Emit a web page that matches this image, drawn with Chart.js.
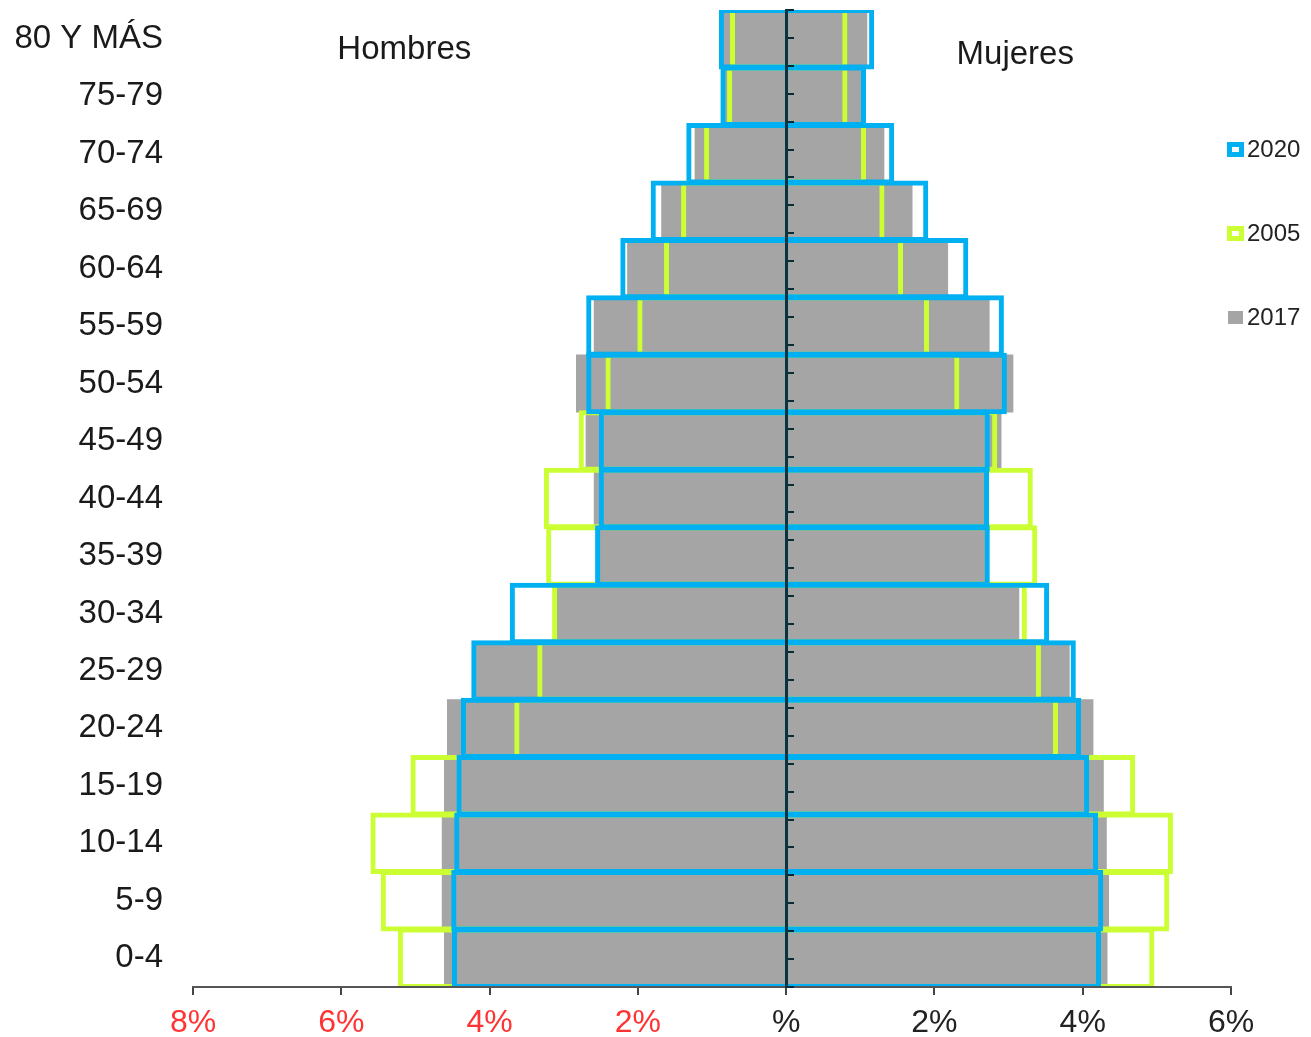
<!DOCTYPE html>
<html>
<head>
<meta charset="utf-8">
<title>Pirámide de población</title>
<script src="https://cdn.jsdelivr.net/npm/chart.js@4/dist/chart.umd.min.js"></script>
<style>
  html, body { margin: 0; padding: 0; background: #fff; }
</style>
</head>
<body>
<canvas id="pyramid" width="1311" height="1037"></canvas>
<script>
// age groups, top of the pyramid first
const ageGroups = ['80 Y MÁS', '75-79', '70-74', '65-69', '60-64', '55-59', '50-54', '45-49',
  '40-44', '35-39', '30-34', '25-29', '20-24', '15-19', '10-14', '5-9', '0-4']

// % of population
const men2020   = [0.88, 0.86, 1.32, 1.80, 2.21, 2.67, 2.67, 2.50, 2.50, 2.55, 3.70, 4.22, 4.36, 4.42, 4.45, 4.49, 4.48]
const women2020 = [1.16, 1.05, 1.43, 1.89, 2.43, 2.91, 2.95, 2.72, 2.71, 2.72, 3.52, 3.88, 3.95, 4.06, 4.18, 4.25, 4.22]
const men2005   = [0.73, 0.77, 1.08, 1.39, 1.62, 1.98, 2.41, 2.77, 3.24, 3.21, 3.13, 3.33, 3.64, 5.04, 5.58, 5.44, 5.21]
const women2005 = [0.80, 0.80, 1.05, 1.30, 1.55, 1.90, 2.31, 2.82, 3.30, 3.36, 3.22, 3.41, 3.64, 4.68, 5.19, 5.14, 4.94]
const men2017   = [0.85, 0.85, 1.23, 1.68, 2.14, 2.59, 2.83, 2.70, 2.59, 2.55, 3.09, 4.19, 4.57, 4.61, 4.64, 4.64, 4.61]
const women2017 = [1.09, 1.02, 1.32, 1.70, 2.18, 2.74, 3.06, 2.90, 2.72, 2.72, 3.14, 3.82, 4.14, 4.28, 4.32, 4.35, 4.33]

const xTicks = [-8, -6, -4, -2, 0, 2, 4, 6]

const FONT = '"Liberation Sans", Arial, sans-serif'
const BLUE = '#00b0f0'
const LIME = '#ccff33'
const GREY = '#a5a5a5'

const toLeft = arr => arr.map(v => -v)

const outlineBar = (label, data, color, inLegend) => ({
  label, data, inLegend,
  backgroundColor: 'rgba(0,0,0,0)',
  borderColor: color,
  borderWidth: 1,
  inflateAmount: 2,
  borderSkipped: 'start'
})

const datasets = [
  outlineBar('2020', toLeft(men2020), BLUE, true),
  outlineBar('2020', women2020, BLUE, false),
  outlineBar('2005', toLeft(men2005), LIME, true),
  outlineBar('2005', women2005, LIME, false),
  { label: '2017', data: toLeft(men2017), backgroundColor: GREY, borderWidth: 0, inLegend: true },
  { label: '2017', data: women2017, backgroundColor: GREY, borderWidth: 0, inLegend: false }
]

// Hombres / Mujeres captions
const sideText = {
  id: 'sideText',
  afterDatasetsDraw(chart) {
    const {ctx, chartArea, scales} = chart
    ctx.save()
    ctx.font = '33px ' + FONT
    ctx.fillStyle = '#1a1a1a'
    ctx.textAlign = 'center'
    ctx.textBaseline = 'middle'
    ctx.fillText('Hombres', scales.x.getPixelForValue(-5.15), chartArea.top + 40)
    ctx.fillText('Mujeres', scales.x.getPixelForValue(3.09), chartArea.top + 45)
    ctx.restore()
  }
}

// legend on the right, one entry per year
const yearLegend = {
  id: 'yearLegend',
  afterDraw(chart) {
    const {ctx, chartArea} = chart
    const x = chartArea.right
    const top = 149, gap = 84
    ctx.save()
    ctx.font = '24px ' + FONT
    ctx.textBaseline = 'middle'
    let i = 0
    chart.data.datasets.forEach(ds => {
      if (!ds.inLegend) return
      const y = top + gap * i
      if (ds.borderWidth > 0) {
        ctx.fillStyle = ds.borderColor
        ctx.fillRect(x - 4, y - 7, 17, 15)
        ctx.fillStyle = '#fff'
        ctx.fillRect(x + 1, y - 2, 7, 5)
      } else {
        ctx.fillStyle = ds.backgroundColor
        ctx.fillRect(x - 3, y - 6, 15, 13)
      }
      ctx.fillStyle = '#222'
      ctx.fillText(ds.label, x + 16, y + 1)
      i++
    })
    ctx.restore()
  }
}

new Chart(document.getElementById('pyramid'), {
  type: 'bar',
  data: { labels: ageGroups, datasets },
  options: {
    indexAxis: 'y',
    responsive: false,
    animation: false,
    datasets: {
      bar: { grouped: false, categoryPercentage: 1, barPercentage: 1 }
    },
    layout: { padding: { left: 0, right: 80, top: 10, bottom: 0 } },
    plugins: { legend: { display: false }, tooltip: { enabled: false } },
    scales: {
      x: {
        type: 'linear',
        min: -8,
        max: 6,
        afterBuildTicks: scale => { scale.ticks = xTicks.map(value => ({ value })) },
        afterFit: scale => { scale.height = 50 },
        ticks: {
          padding: 9,
          font: { family: FONT, size: 32 },
          color: c => (c.tick.value < 0 ? '#ff3333' : '#222'),
          callback: v => (v === 0 ? '%' : Math.abs(v) + '%')
        },
        grid: { drawOnChartArea: false, tickLength: 8, color: '#444', lineWidth: 2, z: 1 },
        border: { color: '#555', width: 2, z: 1 }
      },
      y: {
        afterFit: scale => {
          scale.width = 193
          scale.paddingTop = 0
          scale.paddingBottom = 0
        },
        ticks: { padding: 30, font: { family: FONT, size: 33 }, color: '#1a1a1a' },
        grid: { display: false, drawTicks: false },
        border: { display: false }
      },
      // centre line with its small tick marks
      yc: {
        type: 'linear',
        axis: 'y',
        position: { x: 0 },
        min: -0.5,
        max: 16.5,
        ticks: { display: false, stepSize: 0.5 },
        grid: { drawOnChartArea: false, tickLength: -9, color: '#0a2a33', lineWidth: 2, z: 1 },
        border: { color: '#0a3340', width: 3, z: 1 }
      }
    }
  },
  plugins: [sideText, yearLegend]
})
</script>
</body>
</html>
